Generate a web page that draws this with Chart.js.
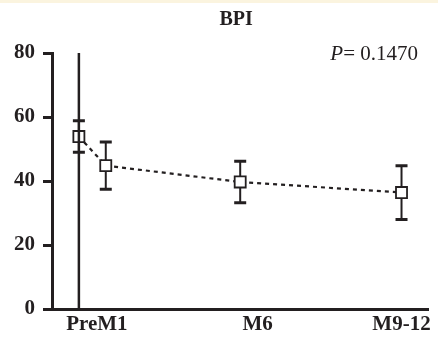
<!DOCTYPE html>
<html>
<head>
<meta charset="utf-8">
<script src="https://cdn.jsdelivr.net/npm/chart.js@4/dist/chart.umd.min.js"></script>
<style>
  html, body { margin: 0; padding: 0; background: #fff; }
  #wrap { width: 438px; height: 341px; position: relative; }
  #band { position: absolute; left: 0; top: 0; width: 438px; height: 3px; background: #fbf4df; }
</style>
</head>
<body>
<div id="wrap">
  <canvas id="chart-bpi" width="438" height="341"></canvas>
  <div id="band"></div>
</div>
<script>
// ===============================
// Dados
// ===============================
const chartTitle = "BPI";
const pValueText = "= 0.1470";

// tempo em meses: PreM1 = 0, M1 = 1, M6 = 6, M9-12 = 12
const visitMonths = [0, 1, 6, 12];
const bpiMeans = [53.9, 44.8, 39.7, 36.4];
const bpiErrors = [4.9, 7.4, 6.5, 8.4];

const xTickLabels = ["PreM1", "M6", "M9-12"];
const xTickValues = [0.67, 6.65, 12];
const yTicks = [0, 20, 40, 60, 80];

const baselineLine = [0, 80]; // linha vertical no PreM1

const INK = "#231f20";
const SERIF = "'Liberation Serif', 'Times New Roman', serif";

// ===============================
// Plugin: barras de erro, titulo e texto do P
// ===============================
const errorBarsPlugin = {
  id: "errorBars",
  beforeDatasetsDraw(chart) {
    const { ctx, scales } = chart;
    const capHalf = 6;
    ctx.save();
    ctx.strokeStyle = INK;
    visitMonths.forEach((m, i) => {
      const x = scales.x.getPixelForValue(m);
      const yTop = scales.y.getPixelForValue(bpiMeans[i] + bpiErrors[i]);
      const yBot = scales.y.getPixelForValue(bpiMeans[i] - bpiErrors[i]);
      ctx.lineWidth = 2;
      ctx.beginPath();
      ctx.moveTo(x, yTop);
      ctx.lineTo(x, yBot);
      ctx.stroke();
      ctx.lineWidth = 3;
      ctx.beginPath();
      ctx.moveTo(x - capHalf, yTop);
      ctx.lineTo(x + capHalf, yTop);
      ctx.moveTo(x - capHalf, yBot);
      ctx.lineTo(x + capHalf, yBot);
      ctx.stroke();
    });
    ctx.restore();
  },
  afterDraw(chart) {
    const { ctx, chartArea } = chart;
    ctx.save();
    ctx.fillStyle = INK;

    // titulo centrado sobre a area do grafico
    ctx.font = "bold 20px " + SERIF;
    ctx.textAlign = "center";
    ctx.textBaseline = "alphabetic";
    ctx.fillText(chartTitle, (chartArea.left + chartArea.right) / 2 - 4, 25);

    // P= 0.1470
    ctx.font = "21px " + SERIF;
    const restW = ctx.measureText(pValueText).width;
    const right = 418;
    ctx.textAlign = "left";
    ctx.fillText(pValueText, right - restW, 60);
    ctx.font = "italic 21px " + SERIF;
    const pW = ctx.measureText("P").width;
    ctx.fillText("P", right - restW - pW, 60);
    ctx.restore();
  }
};

// ===============================
// Grafico
// ===============================
const ctxBpi = document.getElementById("chart-bpi");
const chartBpi = new Chart(ctxBpi, {
  type: "scatter",
  data: {
    datasets: [
      {
        label: "baseline",
        data: baselineLine.map(v => ({ x: visitMonths[0], y: v })),
        showLine: true,
        borderColor: INK,
        borderWidth: 2.5,
        pointRadius: 0
      },
      {
        label: "BPI",
        data: visitMonths.map((m, i) => ({ x: m, y: bpiMeans[i] })),
        showLine: true,
        borderColor: INK,
        borderWidth: 2.2,
        borderDash: [4, 4],
        pointStyle: "rect",
        pointRadius: 7.8,
        pointBorderWidth: 1.8,
        pointBorderColor: INK,
        pointBackgroundColor: "#fff"
      }
    ]
  },
  options: {
    responsive: false,
    animation: false,
    layout: { padding: { left: 0, right: 1, top: 53, bottom: 0 } },
    plugins: {
      legend: { display: false },
      tooltip: { enabled: false },
      title: { display: false }
    },
    scales: {
      x: {
        type: "linear",
        min: -1,
        max: 13,
        afterBuildTicks: scale => {
          scale.ticks = xTickValues.map(v => ({ value: v }));
        },
        afterFit: scale => { scale.height = 32; },
        grid: { display: false },
        border: { display: true, width: 3, color: INK },
        ticks: {
          color: INK,
          padding: -5,
          maxRotation: 0,
          autoSkip: false,
          font: { family: SERIF, size: 21, weight: "bold" },
          callback: (value, index) => xTickLabels[index]
        }
      },
      y: {
        min: 0,
        max: 80,
        afterBuildTicks: scale => {
          scale.ticks = yTicks.map(v => ({ value: v }));
        },
        afterFit: scale => { scale.width = 52; },
        grid: {
          display: true,
          drawOnChartArea: false,
          drawTicks: true,
          tickLength: 9,
          lineWidth: 3,
          color: INK
        },
        border: { display: true, width: 3, color: INK },
        ticks: {
          color: INK,
          padding: 8,
          font: { family: SERIF, size: 21, weight: "bold" }
        }
      }
    }
  },
  plugins: [errorBarsPlugin]
});
</script>
</body>
</html>
